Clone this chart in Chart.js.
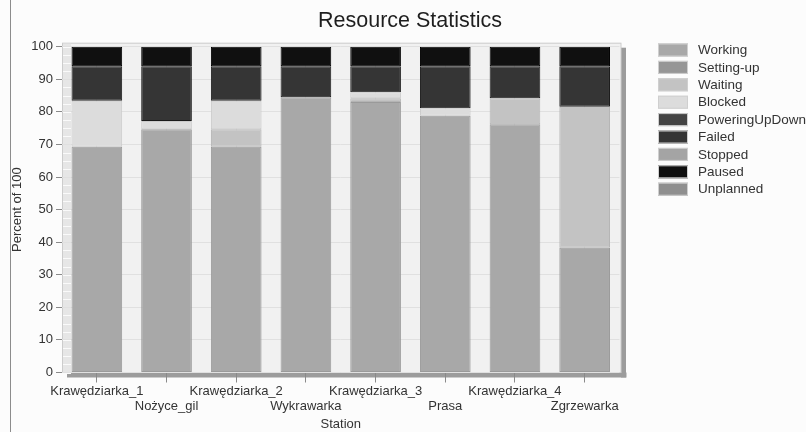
<!DOCTYPE html>
<html>
<head>
<meta charset="utf-8">
<script src="https://cdn.jsdelivr.net/npm/chart.js@4"></script>
<style>
  html, body { margin: 0; padding: 0; background: #fcfcfc; }
  #wrap { width: 806px; height: 432px; position: relative; }
</style>
</head>
<body>
<div id="wrap"><canvas id="c" width="806" height="432"></canvas></div>
<script>
// Stations (x categories)
const stations = ['Krawędziarka_1', 'Nożyce_gil', 'Krawędziarka_2', 'Wykrawarka',
                  'Krawędziarka_3', 'Prasa', 'Krawędziarka_4', 'Zgrzewarka'];

// Share of time per state, percent of 100 (null = state not present)
const working        = [69.3, 74.7, 69.3, 84.5, 83.0, 78.8, 76.2, 38.3];
const settingUp      = [null, null, null, null, null, null, null, null];
const waiting        = [null, null, 5.4, null, 1.2, null, 8.0, 43.3];
const blocked        = [14.1, 2.5, 8.7, null, 1.8, 2.3, null, null];
const poweringUpDown = [null, null, null, null, null, null, null, null];
const failed         = [10.6, 16.8, 10.6, 9.5, 8.0, 12.9, 9.8, 12.4];
const stopped        = [null, null, null, null, null, null, null, null];
const paused         = [6, 6, 6, 6, 6, 6, 6, 6];
const unplanned      = [null, null, null, null, null, null, null, null];

const stateNames = ['Working', 'Setting-up', 'Waiting', 'Blocked', 'PoweringUpDown',
                    'Failed', 'Stopped', 'Paused', 'Unplanned'];
const stateValues = [working, settingUp, waiting, blocked, poweringUpDown,
                     failed, stopped, paused, unplanned];
const stateColors = ['#a8a8a8', '#969696', '#c3c3c3', '#dcdcdc', '#444444',
                     '#353535', '#a4a4a4', '#101010', '#8f8f8f'];
const stateBorders = ['#9a9a9a', '#888888', '#b4b4b4', '#cacaca', '#2a2a2a',
                      '#1a1a1a', '#959595', '#000000', '#808080'];

// y axis tick values
const yTicks = [0, 10, 20, 30, 40, 50, 60, 70, 80, 90, 100];

const FONT = '"Liberation Sans", Arial, sans-serif';

const datasets = stateNames.map((name, i) => ({
  label: name,
  data: stateValues[i],
  backgroundColor: stateColors[i],
  borderColor: stateBorders[i],
  borderWidth: ctx => (ctx.raw ? 1 : 0),
  borderSkipped: false,
  categoryPercentage: 1,
  barPercentage: 0.727
}));

// Plot backdrop with a light 3D wall and drop shadow, plus title and legend
const backdrop = {
  id: 'backdrop',
  beforeDraw(chart) {
    const { ctx, chartArea: a } = chart;
    const yScale = chart.scales.y;
    ctx.save();
    ctx.fillStyle = '#fcfcfc';
    ctx.fillRect(0, 0, chart.width, chart.height);
    // frame line on the left edge
    ctx.strokeStyle = '#8c8c8c';
    ctx.lineWidth = 1;
    ctx.beginPath();
    ctx.moveTo(10.5, 0);
    ctx.lineTo(10.5, chart.height);
    ctx.stroke();
    // shadow
    ctx.fillStyle = '#9c9c9c';
    ctx.fillRect(a.right + 1.5, a.top + 1, 5, a.bottom - a.top + 4);
    ctx.fillRect(a.left + 5, a.bottom, a.right - a.left + 2, 5);
    // plot wall
    ctx.fillStyle = '#f1f1f1';
    ctx.fillRect(a.left, a.top - 4, a.right - a.left + 1.5, a.bottom - a.top + 4);
    ctx.strokeStyle = '#cccccc';
    ctx.strokeRect(a.left + 0.5, a.top - 3.5, a.right - a.left + 1, a.bottom - a.top + 3.5);
    // side wall strip with fine lines
    ctx.fillStyle = '#e6e6e6';
    ctx.fillRect(a.left + 1, a.top - 3, 8, a.bottom - a.top + 3);
    ctx.strokeStyle = '#fafafa';
    for (let v = 0; v <= 100; v += 2.5) {
      const py = Math.round(yScale.getPixelForValue(v)) + 0.5;
      ctx.beginPath();
      ctx.moveTo(a.left + 1, py);
      ctx.lineTo(a.left + 9, py);
      ctx.stroke();
    }
    ctx.restore();
  },
  afterDraw(chart) {
    const { ctx } = chart;
    ctx.save();
    // title
    ctx.fillStyle = '#1e1e1e';
    ctx.font = '21.5px ' + FONT;
    ctx.textAlign = 'center';
    ctx.textBaseline = 'middle';
    ctx.fillText('Resource Statistics', 410, 21);
    // legend from the datasets
    ctx.font = '13.5px ' + FONT;
    ctx.textAlign = 'left';
    chart.data.datasets.forEach((ds, i) => {
      const cy = 50 + i * 17.4;
      ctx.fillStyle = ds.backgroundColor;
      ctx.fillRect(658, cy - 6.5, 30, 13);
      ctx.strokeStyle = '#cfcfcf';
      ctx.lineWidth = 1;
      ctx.strokeRect(658.5, cy - 6, 29, 12);
      ctx.fillStyle = '#333333';
      ctx.fillText(ds.label, 698, cy + 0.5);
    });
    ctx.restore();
  }
};

new Chart(document.getElementById('c'), {
  type: 'bar',
  data: {
    labels: stations.map((s, i) => (i % 2 === 0 ? s : ['', s])),
    datasets
  },
  options: {
    responsive: false,
    animation: false,
    layout: { padding: { top: 46.7, right: 186.5, left: 10, bottom: 0 } },
    plugins: {
      legend: { display: false },
      title: { display: false },
      tooltip: { enabled: false }
    },
    scales: {
      x: {
        stacked: true,
        grid: {
          offset: false,
          color: '#e2e2e2',
          tickColor: '#8a8a8a',
          tickLength: 10,
          drawOnChartArea: true
        },
        border: { display: false },
        ticks: {
          autoSkip: false,
          maxRotation: 0,
          padding: 1,
          color: '#333333',
          font: { family: FONT, size: 13, lineHeight: 1.15 }
        },
        title: {
          display: true,
          text: 'Station',
          color: '#333333',
          padding: { top: 0, bottom: 0 },
          font: { family: FONT, size: 13 }
        },
        afterFit(scale) { scale.height = 59.5; }
      },
      y: {
        stacked: true,
        min: 0,
        max: 100,
        afterBuildTicks(scale) { scale.ticks = yTicks.map(v => ({ value: v })); },
        grid: {
          color: '#e0e0e0',
          tickColor: '#8a8a8a',
          tickLength: 6
        },
        border: { display: false },
        ticks: {
          padding: 3,
          color: '#333333',
          font: { family: FONT, size: 13 }
        },
        title: {
          display: true,
          text: 'Percent of 100',
          color: '#333333',
          padding: { top: 0, bottom: 0 },
          font: { family: FONT, size: 13 }
        },
        afterFit(scale) { scale.width = 52; }
      }
    }
  },
  plugins: [backdrop]
});
</script>
</body>
</html>
